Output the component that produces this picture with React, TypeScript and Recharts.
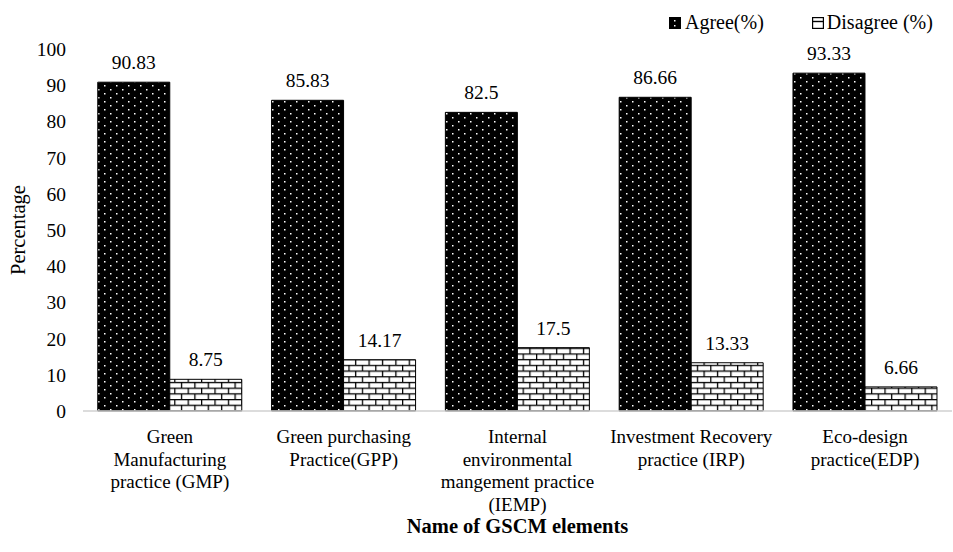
import { Bar, BarChart, LabelList, XAxis, YAxis } from 'recharts'

const categories = [
  'Green\nManufacturing\npractice (GMP)',
  'Green purchasing\nPractice(GPP)',
  'Internal\nenvironmental\nmangement practice\n(IEMP)',
  'Investment Recovery\npractice (IRP)',
  'Eco-design\npractice(EDP)',
]
const agree = [90.83, 85.83, 82.5, 86.66, 93.33]
const disagree = [8.75, 14.17, 17.5, 13.33, 6.66]
const yTicks = [0, 10, 20, 30, 40, 50, 60, 70, 80, 90, 100]

const data = categories.map((name, i) => ({ name, agree: agree[i], disagree: disagree[i] }))

const FONT = "'Liberation Serif', 'DejaVu Serif', Times, serif"
const textStyle = { fontFamily: FONT }

// Multi-line category label under each group
function CategoryTick(props: any) {
  const { x, y, payload } = props
  const lines = String(payload.value).split('\n')
  return (
    <text x={x} y={y} textAnchor="middle" fill="#000" style={textStyle} fontSize={19}>
      {lines.map((line, i) => (
        <tspan key={i} x={x} dy={i === 0 ? 24 : 22.5}>
          {line}
        </tspan>
      ))}
    </text>
  )
}

function PercentLabel(props: any) {
  const { viewBox } = props
  const cx = viewBox.x + 10
  const cy = viewBox.y + viewBox.height / 2
  return (
    <text x={cx} y={cy} transform={`rotate(-90 ${cx} ${cy})`} textAnchor="middle" dominantBaseline="central"
      style={textStyle} fontSize={20.5} fill="#000">
      Percentage
    </text>
  )
}

// Legend drawn over the top-right corner with small swatches of each fill
function LegendBox() {
  return (
    <div style={{ position: 'absolute', top: 11, left: 669, display: 'flex', alignItems: 'center', fontFamily: FONT, fontSize: 20, color: '#000', whiteSpace: 'nowrap' }}>
      <svg width={12} height={12} style={{ marginRight: 4 }}>
        <rect x={0.5} y={0.5} width={11} height={11} fill="#000" stroke="#000" />
        <rect x={5} y={3} width={1.5} height={1.5} fill="#fff" />
        <rect x={5} y={8} width={1.5} height={1.5} fill="#fff" />
      </svg>
      <span>Agree(%)</span>
      <svg width={12} height={12} style={{ marginLeft: 48, marginRight: 3 }}>
        <rect x={0.5} y={0.5} width={11} height={11} fill="#fff" stroke="#000" strokeWidth={1.4} />
        <line x1={0.5} y1={4.5} x2={11.5} y2={4.5} stroke="#000" strokeWidth={1.4} />
      </svg>
      <span>Disagree (%)</span>
    </div>
  )
}

export default function App() {
  return (
    <div style={{ position: 'absolute', left: 0, top: 0, width: 953, height: 552, background: '#fff', fontFamily: FONT }}>
      <BarChart
        width={953}
        height={552}
        data={data}
        margin={{ top: 49, right: 1, bottom: 11, left: 8 }}
        barCategoryGap="8.5%"
        barGap={0}
        style={textStyle}
      >
        <defs>
          <pattern id="dots" width={12} height={8} patternUnits="userSpaceOnUse">
            <rect width={12} height={8} fill="#000" />
            <rect x={2} y={1} width={1.5} height={1.5} fill="#fff" />
            <rect x={8} y={5} width={1.5} height={1.5} fill="#fff" />
          </pattern>
          <pattern id="bricks" width={13.4} height={11.4} patternUnits="userSpaceOnUse">
            <rect width={13.4} height={11.4} fill="#fff" />
            <line x1={0} y1={0.6} x2={13.4} y2={0.6} stroke="#000" strokeWidth={1.3} />
            <line x1={0} y1={6.3} x2={13.4} y2={6.3} stroke="#000" strokeWidth={1.3} />
            <line x1={0.6} y1={0} x2={0.6} y2={6.3} stroke="#000" strokeWidth={1.3} />
            <line x1={7.3} y1={6.3} x2={7.3} y2={11.4} stroke="#000" strokeWidth={1.3} />
          </pattern>
        </defs>
        <XAxis
          dataKey="name"
          tick={<CategoryTick />}
          tickLine={false}
          axisLine={{ stroke: '#d0d0d0', strokeWidth: 1.5 }}
          interval={0}
          height={130}
          label={{
            value: 'Name of GSCM elements',
            position: 'insideBottom',
            offset: 8,
            style: textStyle,
            fontSize: 20.5,
            fontWeight: 'bold',
            fill: '#000',
          }}
        />
        <YAxis
          domain={[0, 100]}
          ticks={yTicks}
          width={75}
          axisLine={false}
          tickLine={false}
          tickMargin={11}
          tick={{ style: textStyle, fontSize: 19.5, fill: '#000' }}
          label={<PercentLabel />}
        />
        <Bar dataKey="agree" fill="url(#dots)" stroke="#000" strokeWidth={1} isAnimationActive={false}>
          <LabelList dataKey="agree" position="top" offset={13} style={textStyle} fontSize={19.5} fill="#000" />
        </Bar>
        <Bar dataKey="disagree" fill="url(#bricks)" stroke="#000" strokeWidth={1} isAnimationActive={false}>
          <LabelList dataKey="disagree" position="top" offset={13} style={textStyle} fontSize={19.5} fill="#000" />
        </Bar>
      </BarChart>
      <LegendBox />
    </div>
  )
}
